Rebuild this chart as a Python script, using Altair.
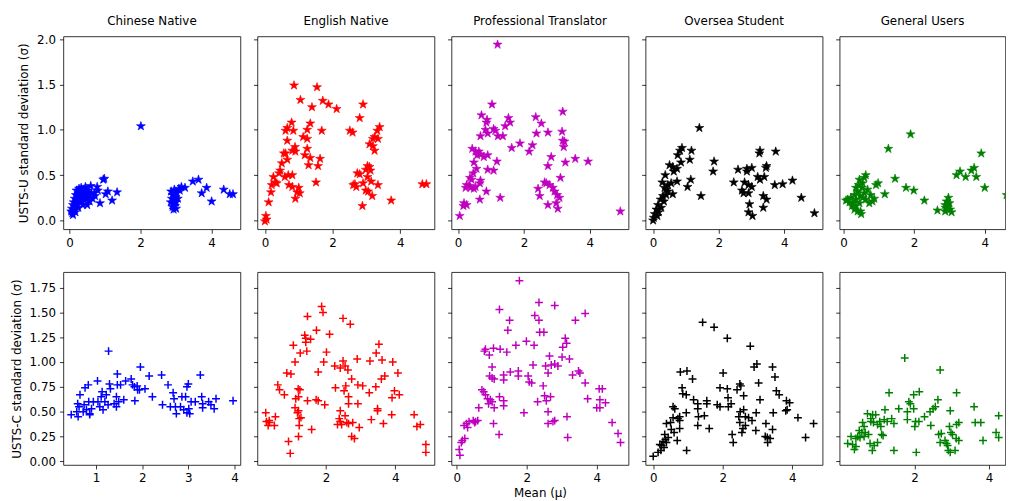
import altair as alt
import pandas as pd

GROUPS = ["Chinese Native", "English Native", "Professional Translator", "Oversea Student", "General Users"]
COLORS = ["#0000ff", "#ff0000", "#bf00bf", "#000000", "#008000"]

Y_TITLE_TOP = "USTS-U standard deviation (σ)"
Y_TITLE_BOTTOM = "USTS-C standard deviation (σ)"
X_TITLE = "Mean (μ)"

TOP_Y_TICKS = [0.0, 0.5, 1.0, 1.5, 2.0]
BOTTOM_Y_TICKS = [0.0, 0.25, 0.5, 0.75, 1.0, 1.25, 1.5, 1.75]
TOP_X_TICKS = [[0, 2, 4], [0, 2, 4], [0, 2, 4], [0, 2, 4], [0, 2, 4]]
BOTTOM_X_TICKS = [[1, 2, 3, 4], [2, 4], [0, 2, 4], [0, 2, 4], [2, 4]]

TOP_Y_DOMAIN = [-0.098, 2.03]
BOTTOM_Y_DOMAIN = [-0.037, 1.906]
# last column is cut by the right edge of the picture
TOP_X_DOMAINS = [[-0.17, 4.81], [-0.22, 5.01], [-0.2, 5.18], [-0.23, 5.17], [-0.11, 4.585]]
BOTTOM_X_DOMAINS = [[0.29, 4.13], [0.01, 5.14], [-0.15, 4.91], [-0.22, 4.87], [-0.006, 4.44]]

# ---- USTS-U (top row) : (mean, std) ----
CN_U = [(0.05,0.10),(0.07,0.13),(0.08,0.08),(0.1,0.17),(0.1,0.06),(0.12,0.2),(0.13,0.11),(0.15,0.24),
        (0.15,0.15),(0.17,0.09),(0.18,0.28),(0.2,0.22),(0.2,0.33),(0.22,0.18),(0.23,0.26),(0.25,0.3),
        (0.25,0.14),(0.27,0.35),(0.28,0.22),(0.3,0.27),(0.3,0.32),(0.32,0.2),(0.33,0.36),(0.35,0.25),
        (0.37,0.3),(0.38,0.17),(0.4,0.34),(0.42,0.22),(0.43,0.28),(0.45,0.37),(0.47,0.3),(0.5,0.25),
        (0.5,0.17),(0.52,0.33),(0.55,0.28),(0.57,0.21),(0.6,0.38),(0.62,0.3),(0.65,0.24),(0.7,0.3),
        (0.72,0.27),(0.78,0.37),(0.8,0.33),(0.86,0.19),(0.95,0.45),(0.98,0.46),(1.02,0.29),(1.08,0.32),
        (1.2,0.22),(1.34,0.31),(2.01,1.04),
        (2.85,0.2),(2.86,0.32),(2.88,0.24),(2.9,0.15),(2.9,0.28),(2.92,0.18),(2.93,0.12),(2.95,0.22),
        (2.95,0.34),(2.97,0.16),(2.98,0.26),(3.0,0.2),(3.0,0.13),(3.02,0.3),(3.05,0.24),(3.08,0.35),
        (3.1,0.33),(3.15,0.37),(3.25,0.36),(3.47,0.43),(3.63,0.45),(3.72,0.30),(3.86,0.36),(4.0,0.21),
        (4.34,0.34),(4.51,0.29),(4.6,0.29)]

EN_U = [(0.86,1.49),(1.54,1.47),(1.05,1.33),(1.39,1.25),(1.71,1.32),(1.88,1.28),(2.12,1.23),(2.9,1.28),
        (2.8,1.13),(0.79,1.08),(0.61,0.99),(0.66,1.02),(0.84,0.99),(1.34,1.07),(1.25,1.0),(1.68,0.99),
        (2.51,0.99),(2.59,0.97),(3.39,1.03),(3.32,0.99),(3.24,0.92),(3.19,0.9),(3.34,0.9),(3.09,0.84),
        (3.19,0.82),(3.24,0.77),(1.13,0.92),(1.25,0.9),(0.66,0.88),(0.89,0.81),(0.81,0.77),(0.9,0.76),
        (0.61,0.74),(0.56,0.74),(1.25,0.79),(1.18,0.72),(1.34,0.69),(1.63,0.68),(1.29,0.61),(1.57,0.6),
        (0.66,0.67),(0.5,0.63),(0.45,0.55),(0.42,0.52),(0.69,0.5),(0.81,0.5),(0.59,0.48),(0.25,0.48),
        (0.3,0.42),(0.35,0.41),(0.2,0.39),(0.71,0.39),(0.81,0.37),(1.0,0.36),(0.95,0.31),(1.03,0.3),
        (0.18,0.31),(0.9,0.24),(0.11,0.2),(1.51,0.42),(0.03,0.05),(0.0,-0.01),(0.05,0.01),
        (2.73,0.52),(2.8,0.51),(3.03,0.6),(3.09,0.59),(2.98,0.56),(3.12,0.55),(2.61,0.39),(2.7,0.37),
        (2.66,0.4),(2.9,0.41),(3.14,0.43),(3.34,0.39),(2.98,0.33),(3.05,0.32),(3.17,0.27),(2.88,0.16),
        (3.73,0.22),(4.65,0.4),(4.77,0.4),(3.03,0.48)]

PT_U = [(1.2,1.94),(1.03,1.28),(0.71,1.16),(0.88,1.11),(0.86,1.08),(1.53,1.13),(1.58,1.08),(1.43,1.04),
        (0.83,1.0),(1.08,1.01),(1.13,0.99),(0.9,0.96),(0.68,0.93),(1.21,0.93),(1.36,0.93),(2.36,1.14),
        (2.53,1.07),(2.38,0.96),(2.73,0.97),(3.18,1.2),(3.16,0.98),(3.18,0.88),(3.23,0.87),(3.21,0.81),
        (1.88,0.85),(1.63,0.8),(2.26,0.83),(2.16,0.76),(2.83,0.7),(3.26,0.64),(3.56,0.68),(3.95,0.65),
        (2.73,0.6),(0.43,0.79),(0.53,0.76),(0.63,0.76),(0.68,0.73),(0.78,0.7),(0.9,0.72),(0.58,0.72),
        (0.48,0.64),(1.18,0.65),(0.56,0.57),(0.46,0.52),(0.9,0.56),(1.08,0.55),(0.36,0.47),(0.41,0.45),
        (0.68,0.44),(0.66,0.41),(0.26,0.39),(0.33,0.38),(0.38,0.36),(0.48,0.35),(0.23,0.36),(0.53,0.37),
        (0.86,0.32),(1.28,0.25),(0.66,0.23),(0.18,0.19),(0.26,0.17),(0.16,0.16),(0.05,0.05),
        (3.11,0.47),(2.63,0.42),(2.68,0.41),(2.43,0.35),(2.78,0.39),(2.88,0.36),(2.93,0.32),(3.01,0.28),
        (3.08,0.25),(2.48,0.27),(2.73,0.17),(2.98,0.19),(3.03,0.13),(4.93,0.1)]

OS_U = [(1.41,1.02),(0.88,0.8),(0.82,0.77),(0.75,0.72),(1.17,0.77),(1.12,0.67),(0.85,0.64),(0.73,0.57),
        (0.5,0.61),(0.6,0.59),(0.63,0.54),(0.37,0.5),(0.73,0.43),(0.28,0.42),(0.45,0.39),(0.55,0.41),
        (0.35,0.36),(0.6,0.29),(0.4,0.28),(0.3,0.27),(0.23,0.23),(0.33,0.21),(0.15,0.17),(0.25,0.14),
        (0.1,0.12),(0.17,0.09),(0.05,0.07),(0.02,0.03),(0.0,0.0),(0.13,0.05),(0.45,0.32),(0.4,0.34),
        (1.05,0.37),(1.15,0.45),(1.46,0.27),(1.86,0.65),(1.83,0.54),(2.46,0.42),(2.59,0.56),(2.86,0.57),
        (3.01,0.58),(2.86,0.54),(2.79,0.42),(2.91,0.39),(3.01,0.37),(2.71,0.33),(2.76,0.3),(2.91,0.3),
        (2.94,0.18),(2.91,0.09),(3.03,0.05),(3.26,0.77),(3.24,0.74),(3.74,0.76),(3.19,0.48),(3.26,0.45),
        (3.39,0.48),(3.46,0.6),(3.44,0.58),(3.36,0.27),(3.46,0.23),(3.36,0.14),(3.71,0.39),(3.95,0.4),
        (4.25,0.44),(4.52,0.25),(4.92,0.08)]

GU_U = [(1.9,0.95),(1.27,0.79),(3.9,0.74),(1.46,0.46),(1.77,0.36),(1.99,0.33),(2.29,0.22),(2.66,0.11),
        (4.0,0.36),(3.2,0.5),(3.3,0.54),(3.46,0.48),(3.62,0.55),(3.7,0.58),(3.76,0.48),(1.17,0.29),
        (0.92,0.39),(0.98,0.41),(0.63,0.5),(0.59,0.47),(4.62,0.28),
        (2.97,0.25),(2.92,0.21),(2.88,0.17),(2.95,0.15),(3.02,0.12),(2.88,0.1),(3.06,0.09),(3.0,0.19),
        (2.89,0.14),
        (0.07,0.22),(0.17,0.2),(0.12,0.23),(0.21,0.25),(0.26,0.19),(0.31,0.28),(0.35,0.23),(0.35,0.16),
        (0.4,0.32),(0.43,0.39),(0.45,0.19),(0.48,0.1),(0.5,0.07),(0.52,0.36),(0.54,0.25),(0.59,0.3),
        (0.63,0.23),(0.68,0.34),(0.73,0.19),(0.77,0.28),(0.82,0.21),(0.87,0.24),(0.24,0.16),(0.31,0.12),
        (0.4,0.1),(0.47,0.27),(0.54,0.41),(0.35,0.36),(0.45,0.45)]

# ---- USTS-C (bottom row) : (mean, std) ----
CN_C = [(1.27,1.11),(0.46,0.47),(0.61,0.45),(0.58,0.5),(0.65,0.67),(0.6,0.58),(0.63,0.55),(0.72,0.5),
        (0.74,0.57),(0.76,0.74),(0.83,0.77),(0.79,0.52),(0.84,0.6),(0.86,0.48),(0.9,0.53),(0.94,0.6),
        (1.03,0.81),(1.04,0.6),(1.08,0.55),(1.11,0.65),(1.13,0.7),(1.15,0.52),(1.19,0.6),(1.22,0.67),
        (1.26,0.57),(1.29,0.78),(1.31,0.73),(1.39,0.58),(1.44,0.65),(1.46,0.88),(1.46,0.77),(1.44,0.55),
        (1.49,0.6),(1.53,0.77),(1.6,0.62),(1.64,0.81),(1.76,0.83),(1.79,0.77),(1.83,0.75),(1.84,0.61),
        (1.89,0.76),(1.9,0.72),(1.96,0.95),(1.94,0.72),(2.06,0.73),(2.15,0.86),(2.22,0.65),(2.42,0.87),
        (2.44,0.57),(2.56,0.77),(2.61,0.55),(2.67,0.69),(2.69,0.63),(2.72,0.55),(2.74,0.48),(2.86,0.65),
        (2.9,0.52),(2.94,0.65),(2.97,0.75),(3.0,0.78),(2.97,0.49),(3.01,0.53),(3.03,0.48),(3.06,0.6),
        (3.15,0.6),(3.26,0.87),(3.29,0.65),(3.31,0.58),(3.31,0.54),(3.44,0.6),(3.49,0.57),(3.56,0.53),
        (3.6,0.63),(3.97,0.61),(2.83,0.55),(0.86,0.47)]

EN_C = [(1.87,1.56),(1.91,1.5),(1.46,1.46),(2.49,1.44),(2.7,1.38),(1.72,1.32),(2.1,1.28),(1.38,1.27),
        (1.41,1.24),(1.55,1.23),(1.41,1.2),(1.05,1.17),(3.53,1.18),(1.25,1.09),(1.44,1.11),(2.01,1.1),
        (3.45,1.09),(1.1,1.0),(1.93,1.0),(2.49,1.01),(2.9,1.03),(3.27,1.01),(3.62,1.02),(3.93,1.0),
        (2.25,0.96),(2.55,0.96),(2.41,0.94),(2.63,0.92),(0.86,0.89),(0.98,0.88),(1.77,0.9),(4.08,0.89),
        (3.7,0.86),(3.6,0.83),(2.74,0.83),(0.6,0.77),(0.65,0.72),(0.79,0.67),(1.19,0.73),(1.24,0.72),
        (2.27,0.74),(2.57,0.76),(2.52,0.71),(2.92,0.77),(3.06,0.76),(3.25,0.69),(3.44,0.75),(3.98,0.71),
        (4.12,0.67),(3.91,0.64),(1.12,0.63),(1.2,0.65),(1.46,0.61),(1.71,0.62),(1.77,0.61),(1.96,0.57),
        (2.65,0.65),(2.65,0.58),(2.92,0.58),(1.1,0.54),(1.2,0.51),(1.17,0.49),(1.27,0.44),(1.22,0.43),
        (1.22,0.36),(2.41,0.51),(2.55,0.46),(2.38,0.43),(2.41,0.4),(2.33,0.37),(2.45,0.37),(2.6,0.39),
        (2.65,0.38),(2.77,0.39),(2.96,0.34),(2.74,0.25),(2.82,0.23),(3.49,0.53),(3.49,0.51),(3.31,0.42),
        (3.66,0.38),(3.9,0.47),(0.25,0.49),(0.27,0.4),(0.35,0.41),(0.36,0.39),(0.32,0.36),(0.53,0.45),
        (0.5,0.36),(1.58,0.32),(1.2,0.25),(0.91,0.2),(0.96,0.08),(4.55,0.47),(4.63,0.35),(4.73,0.37),
        (4.89,0.17),(4.89,0.09)]

PT_C = [(1.79,1.82),(2.35,1.6),(2.8,1.57),(1.22,1.53),(3.67,1.49),(2.23,1.47),(2.35,1.42),(1.51,1.42),
        (3.39,1.42),(1.46,1.32),(2.37,1.3),(2.49,1.3),(3.1,1.24),(3.14,1.19),(1.99,1.21),(1.69,1.17),
        (2.21,1.17),(3.03,1.15),(0.82,1.13),(0.79,1.11),(1.05,1.14),(1.24,1.13),(1.43,1.1),(0.93,1.07),
        (2.65,1.06),(3.01,1.05),(3.22,1.03),(2.18,0.97),(2.54,0.96),(2.7,0.97),(2.8,0.98),(2.89,0.96),
        (1.01,0.95),(2.61,0.89),(1.53,0.9),(1.76,0.91),(1.76,0.86),(3.31,0.87),(3.48,0.91),(3.52,0.89),
        (0.94,0.86),(1.01,0.84),(1.07,0.83),(1.34,0.87),(1.34,0.82),(2.04,0.86),(2.07,0.8),(2.14,0.79),
        (3.67,0.79),(2.47,0.76),(0.72,0.72),(0.77,0.7),(0.82,0.67),(0.88,0.63),(0.96,0.62),(0.91,0.58),
        (1.01,0.6),(1.22,0.65),(1.34,0.61),(1.34,0.56),(1.07,0.54),(2.31,0.6),(2.51,0.66),(2.56,0.61),
        (2.68,0.65),(3.74,0.63),(4.07,0.73),(4.16,0.73),(4.09,0.62),(4.25,0.59),(4.0,0.54),(4.09,0.54),
        (0.63,0.54),(1.92,0.49),(2.61,0.5),(2.8,0.41),(2.75,0.4),(2.61,0.38),(3.15,0.45),(0.21,0.36),
        (0.28,0.38),(0.35,0.4),(0.47,0.41),(0.54,0.4),(0.6,0.41),(0.31,0.34),(0.51,0.39),(1.05,0.38),
        (1.21,0.27),(3.17,0.24),(0.23,0.23),(0.16,0.21),(0.13,0.19),(0.07,0.12),(0.09,0.06),(4.44,0.39),
        (4.61,0.28),(4.68,0.19)]

OS_C = [(1.42,1.4),(1.75,1.35),(2.13,1.24),(2.79,1.16),(2.98,0.98),(2.9,0.95),(3.43,0.95),(3.5,0.85),
        (0.78,0.9),(0.97,0.91),(1.13,0.83),(2.01,0.89),(3.03,0.79),(2.49,0.78),(2.52,0.76),(2.41,0.72),
        (1.92,0.74),(2.13,0.73),(0.83,0.74),(0.85,0.68),(0.95,0.67),(2.6,0.66),(3.54,0.71),(3.62,0.67),
        (3.07,0.62),(1.16,0.62),(1.54,0.61),(1.54,0.58),(1.28,0.58),(2.15,0.64),(2.24,0.58),(1.84,0.57),
        (1.92,0.55),(2.16,0.55),(3.83,0.61),(3.92,0.59),(3.81,0.51),(3.85,0.52),(3.45,0.49),(0.57,0.55),
        (0.62,0.53),(1.28,0.53),(0.95,0.49),(0.71,0.43),(0.76,0.45),(1.47,0.46),(1.3,0.45),(2.6,0.52),
        (2.5,0.5),(2.96,0.49),(2.65,0.45),(2.74,0.44),(2.84,0.41),(2.46,0.45),(2.49,0.39),(2.65,0.36),
        (2.58,0.33),(2.55,0.29),(2.95,0.31),(3.24,0.38),(3.43,0.32),(4.16,0.44),(4.61,0.38),(4.38,0.24),
        (0.57,0.44),(0.5,0.39),(0.38,0.38),(0.76,0.41),(0.52,0.32),(0.76,0.33),(0.6,0.29),(0.33,0.27),
        (0.43,0.24),(0.35,0.22),(0.28,0.2),(0.38,0.19),(0.19,0.17),(0.24,0.16),(0.31,0.14),(0.22,0.11),
        (0.14,0.09),(0.0,0.05),(0.69,0.21),(0.96,0.11),(2.27,0.27),(2.3,0.19),(3.22,0.25),(3.28,0.24),
        (3.29,0.19),(3.36,0.23),(1.28,0.36),(1.61,0.33)]

GU_C = [(1.74,1.04),(2.69,0.92),(1.32,0.69),(1.98,0.67),(2.13,0.7),(3.13,0.69),(1.85,0.6),(1.89,0.58),
        (2.63,0.62),(2.56,0.55),(2.5,0.53),(2.42,0.5),(2.27,0.45),(1.58,0.53),(1.98,0.53),(1.81,0.5),
        (1.21,0.52),(2.96,0.51),(3.6,0.55),(4.26,0.46),(0.74,0.48),(0.83,0.43),(0.88,0.47),(0.96,0.47),
        (0.83,0.4),(0.9,0.39),(1.01,0.37),(1.1,0.35),(1.07,0.4),(1.19,0.42),(1.27,0.4),(1.39,0.43),
        (1.45,0.38),(1.81,0.42),(2.03,0.4),(2.12,0.4),(2.01,0.35),(2.44,0.36),(3.19,0.39),(3.13,0.37),
        (3.63,0.39),(3.78,0.39),(2.65,0.27),(2.72,0.28),(2.94,0.35),(2.98,0.29),(3.02,0.27),(3.12,0.23),
        (3.19,0.21),(2.82,0.21),(2.69,0.19),(2.86,0.18),(2.89,0.16),(2.96,0.09),(2.91,0.11),(3.09,0.11),
        (3.84,0.21),(4.19,0.29),(4.26,0.24),(0.61,0.39),(0.65,0.35),(0.52,0.31),(0.59,0.29),(0.65,0.25),
        (0.54,0.24),(0.48,0.25),(0.43,0.23),(0.3,0.25),(0.21,0.18),(0.34,0.17),(0.39,0.12),(0.43,0.15),
        (0.81,0.18),(0.92,0.16),(1.01,0.19),(1.12,0.27),(1.16,0.26),(0.87,0.11),(1.45,0.11),(2.05,0.09),
        (0.77,0.27),(0.68,0.29)]

TOP_DATA = [CN_U, EN_U, PT_U, OS_U, GU_U]
BOTTOM_DATA = [CN_C, EN_C, PT_C, OS_C, GU_C]

STAR = ("M0,-1L0.2245,-0.309L0.951,-0.309L0.363,0.118L0.588,0.809L0,0.382"
        "L-0.588,0.809L-0.363,0.118L-0.951,-0.309L-0.2245,-0.309Z")
PLUS = "M-1,0L1,0M0,-1L0,1"

FONT = "DejaVu Sans"
WIDTHS = [179, 179, 179, 179, 167.6]
H = 195
TITLE_OFFSETS = [5.6, 9, 9, 9, 9]


def panel(pts, color, row, col):
    df = pd.DataFrame(pts, columns=["x", "y"])
    if row == 0:
        xdom, xticks = TOP_X_DOMAINS[col], TOP_X_TICKS[col]
        ydom, yticks, yfmt, ytitle = TOP_Y_DOMAIN, TOP_Y_TICKS, ".1f", Y_TITLE_TOP
        mark = alt.Chart(df).mark_point(shape=STAR, filled=True, color=color, size=90,
                                        stroke=color, strokeWidth=0.6, opacity=1, clip=True)
    else:
        xdom, xticks = BOTTOM_X_DOMAINS[col], BOTTOM_X_TICKS[col]
        ydom, yticks, yfmt, ytitle = BOTTOM_Y_DOMAIN, BOTTOM_Y_TICKS, ".2f", Y_TITLE_BOTTOM
        mark = alt.Chart(df).mark_point(shape=PLUS, filled=False, color=color, size=64,
                                        strokeWidth=1.5, opacity=1, clip=True)
    xaxis_kw = dict(values=xticks, format="d", title=None)
    if row == 1 and col == 2:
        xaxis_kw["title"] = X_TITLE
    yaxis_kw = dict(values=yticks, format=yfmt, title=None)
    if col == 0:
        yaxis_kw["title"] = ytitle
    else:
        yaxis_kw["labels"] = False
    ch = mark.encode(
        x=alt.X("x:Q", scale=alt.Scale(domain=xdom, nice=False, zero=False), axis=alt.Axis(**xaxis_kw)),
        y=alt.Y("y:Q", scale=alt.Scale(domain=ydom, nice=False, zero=False), axis=alt.Axis(**yaxis_kw)),
    )
    props = dict(width=WIDTHS[col], height=H)
    if row == 0:
        props["title"] = alt.TitleParams(GROUPS[col], offset=TITLE_OFFSETS[col])
    return ch.properties(**props)


panels = [panel(TOP_DATA[i], COLORS[i], 0, i) for i in range(5)] + \
         [panel(BOTTOM_DATA[i], COLORS[i], 1, i) for i in range(5)]

chart = alt.concat(*panels, columns=5, spacing={"row": 43.3, "column": 17.2}, bounds="flush").properties(
    padding={"left": 1, "top": 3, "right": 0, "bottom": 0}
).configure_view(
    stroke="black", strokeWidth=0.8
).configure_axis(
    domain=False, grid=False, tickColor="black", tickSize=4, tickWidth=0.8,
    labelColor="black", labelFont=FONT, labelFontSize=12, labelPadding=4,
    titleFont=FONT, titleFontSize=12, titleColor="black", titleFontWeight="normal", titlePadding=4
).configure_axisY(
    titlePadding=6
).configure_title(
    font=FONT, fontSize=12, fontWeight="normal", color="black"
)

chart.save("out.html", embed_options={"renderer": "svg", "actions": False})
